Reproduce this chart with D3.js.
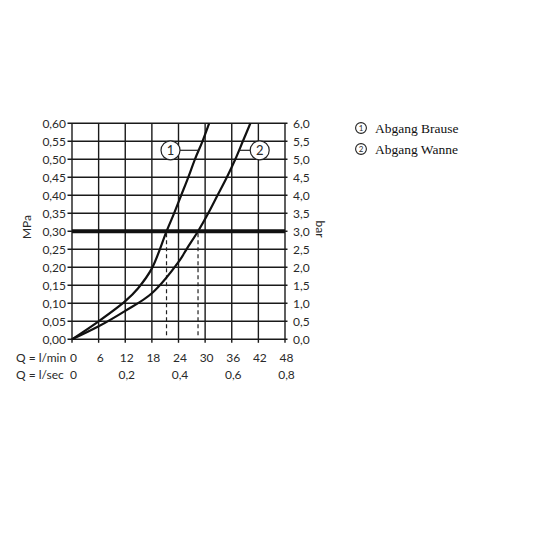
<!DOCTYPE html>
<html>
<head>
<meta charset="utf-8">
<script src="https://cdn.jsdelivr.net/npm/d3@7"></script>
<style>
  body { margin: 0; background: #fff; }
  svg text { font-family: "Lato", "Open Sans", sans-serif; fill: #2a2a2a; }
  svg text.legend { font-family: "Liberation Serif", "Times New Roman", serif; fill: #111; }
</style>
</head>
<body>
<div id="chart"></div>
<script>

//**************************************************************************
//** Data
//**************************************************************************
var flowTicks = [0, 6, 12, 18, 24, 30, 36, 42, 48];          // l/min
var secTicks = [0, 0.2, 0.4, 0.6, 0.8];                       // l/sec
var mpaTicks = [0, 0.05, 0.10, 0.15, 0.20, 0.25, 0.30, 0.35, 0.40, 0.45, 0.50, 0.55, 0.60];
var barTicks = [0, 0.5, 1.0, 1.5, 2.0, 2.5, 3.0, 3.5, 4.0, 4.5, 5.0, 5.5, 6.0];

// Abgang Brause (1)
var brauseFlow = [0, 6, 12, 14.9, 18, 21.3, 23.0, 24.6, 26.2, 27.7, 29.4, 30.9];
var brausePress = [0, 0.05, 0.106, 0.142, 0.197, 0.30, 0.35, 0.40, 0.45, 0.50, 0.55, 0.60];

// Abgang Wanne (2)
var wanneFlow = [0, 6, 12, 18, 24.3, 25.8, 28.4, 30.7, 32.8, 34.9, 36.8, 38.5, 40.2];
var wannePress = [0, 0.036, 0.079, 0.128, 0.22, 0.25, 0.30, 0.35, 0.40, 0.45, 0.50, 0.55, 0.60];

var refPressure = 0.30;
var legendLabels = ["Abgang Brause", "Abgang Wanne"];


//**************************************************************************
//** Chart
//**************************************************************************
var svg = d3.select("#chart").append("svg")
    .attr("width", 536)
    .attr("height", 536);

var x = d3.scaleLinear().domain([0, 48]).range([72, 285]);
var y = d3.scaleLinear().domain([0, 0.6]).range([339.3, 123.3]);
var yBar = d3.scaleLinear().domain([0, 6]).range([339.3, 123.3]);
var xSec = d3.scaleLinear().domain([0, 0.8]).range([72, 285]);

var fmt = function(spec){
    var f = d3.format(spec);
    return function(d){ return f(d).replace(".", ","); };
};

//Grid
var grid = svg.append("g").attr("stroke", "#1a1a1a").attr("stroke-width", 1.4);
grid.selectAll(".v").data(flowTicks).enter().append("line")
    .attr("x1", function(d){ return x(d); })
    .attr("x2", function(d){ return x(d); })
    .attr("y1", y(0.6))
    .attr("y2", y(0) + 3.5);
grid.selectAll(".h").data(mpaTicks).enter().append("line")
    .attr("x1", x(0) - 4.5)
    .attr("x2", x(48) + 2.5)
    .attr("y1", function(d){ return y(d); })
    .attr("y2", function(d){ return y(d); });

//Reference line at 3 bar
svg.append("line")
    .attr("x1", x(0)).attr("x2", x(48))
    .attr("y1", y(refPressure)).attr("y2", y(refPressure))
    .attr("stroke", "#111").attr("stroke-width", 4);

//Dashed drop lines
[[brauseFlow, brausePress], [wanneFlow, wannePress]].forEach(function(s){
    var q = s[0][s[1].indexOf(refPressure)];
    svg.append("line")
        .attr("x1", x(q)).attr("x2", x(q))
        .attr("y1", y(refPressure) + 2).attr("y2", y(0) - 1)
        .attr("stroke", "#222").attr("stroke-width", 1.2)
        .attr("stroke-dasharray", "4,3");
});

//Curves
var line = d3.line()
    .x(function(d){ return x(d[0]); })
    .y(function(d){ return y(d[1]); })
    .curve(d3.curveCatmullRom);

[[brauseFlow, brausePress], [wanneFlow, wannePress]].forEach(function(s){
    var pts = d3.zip(s[0], s[1]);
    svg.append("path")
        .attr("d", line(pts))
        .attr("fill", "none")
        .attr("stroke", "#111")
        .attr("stroke-width", 2.2);
});

//Curve labels
var tags = [
    {n: "1", cx: x(22.2), cy: y(0.525), lx1: x(24.2), lx2: x(28.6)},
    {n: "2", cx: x(42.3), cy: y(0.525), lx1: x(37.6), lx2: x(40.3)}
];
tags.forEach(function(t){
    svg.append("line")
        .attr("x1", t.lx1).attr("x2", t.lx2)
        .attr("y1", t.cy).attr("y2", t.cy)
        .attr("stroke", "#222").attr("stroke-width", 1.2);
    svg.append("circle")
        .attr("cx", t.cx).attr("cy", t.cy).attr("r", 9.5)
        .attr("fill", "#fff").attr("stroke", "#222").attr("stroke-width", 1.2);
    svg.append("text")
        .attr("x", t.cx).attr("y", t.cy + 4.5)
        .attr("text-anchor", "middle")
        .attr("font-size", 13)
        .text(t.n);
});

//Left axis labels (MPa)
svg.selectAll(".lt").data(mpaTicks).enter().append("text")
    .attr("x", 66)
    .attr("y", function(d){ return y(d) + 4.2; })
    .attr("text-anchor", "end")
    .attr("font-size", 12)
    .text(fmt(".2f"));

//Right axis labels (bar)
svg.selectAll(".rt").data(barTicks).enter().append("text")
    .attr("x", 293)
    .attr("y", function(d){ return yBar(d) + 4.2; })
    .attr("font-size", 12)
    .text(fmt(".1f"));

svg.append("text")
    .attr("transform", "translate(31,227) rotate(-90)")
    .attr("text-anchor", "middle")
    .attr("font-size", 12)
    .text("MPa");

svg.append("text")
    .attr("transform", "translate(316,229) rotate(90)")
    .attr("text-anchor", "middle")
    .attr("font-size", 12)
    .text("bar");

//Bottom labels
svg.append("text").attr("x", 16).attr("y", 362).attr("font-size", 12).text("Q = l/min");
svg.append("text").attr("x", 16).attr("y", 379).attr("font-size", 12).text("Q = l/sec");

svg.selectAll(".bt").data(flowTicks).enter().append("text")
    .attr("x", function(d){ return x(d) + 1.5; })
    .attr("y", 362)
    .attr("text-anchor", "middle")
    .attr("font-size", 12)
    .text(function(d){ return d; });

svg.selectAll(".st").data(secTicks).enter().append("text")
    .attr("x", function(d){ return xSec(d) + 1.5; })
    .attr("y", 379)
    .attr("text-anchor", "middle")
    .attr("font-size", 12)
    .text(function(d){ return d === 0 ? "0" : fmt(".1f")(d); });

//Legend
var legend = svg.append("g");
legendLabels.forEach(function(label, i){
    var cy = 128 + i * 21;
    legend.append("circle")
        .attr("cx", 361).attr("cy", cy).attr("r", 5.4)
        .attr("fill", "none").attr("stroke", "#222").attr("stroke-width", 1.1);
    legend.append("text")
        .attr("x", 361).attr("y", cy + 3)
        .attr("text-anchor", "middle")
        .attr("font-size", 8)
        .text(i + 1);
    legend.append("text")
        .attr("class", "legend")
        .attr("x", 375).attr("y", cy + 4.5)
        .attr("font-size", 13.5)
        .text(label);
});

</script>
</body>
</html>
